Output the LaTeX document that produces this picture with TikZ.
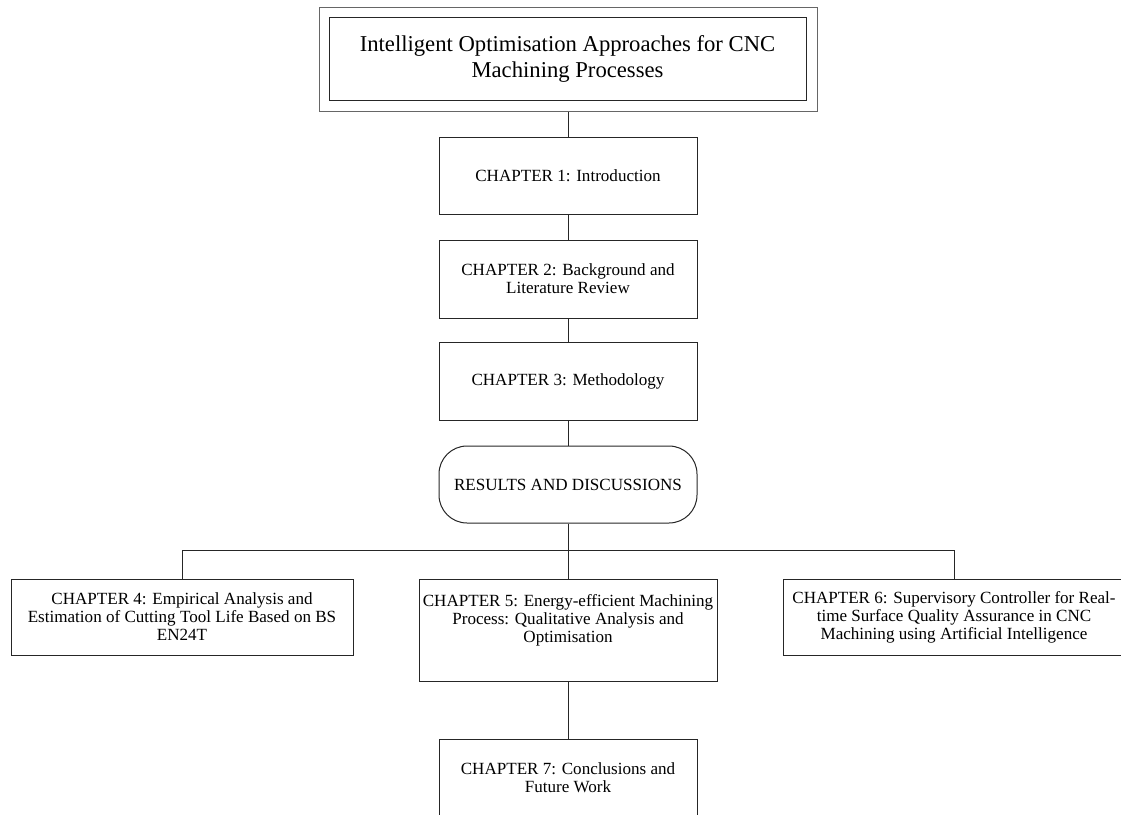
\documentclass[tikz,border=0pt]{standalone}
\usepackage{fontspec}
\setmainfont{Liberation Serif}
\begin{document}
\begin{tikzpicture}[x=0.75pt,y=-0.75pt,
  sz/.style 2 args={minimum width={#1*0.75pt}, minimum height={#2*0.75pt}},
  box/.style={draw=black!85, line width=0.75pt, rectangle, align=center,
    inner sep=0pt, font=\fontsize{12.8}{13.5}\selectfont},
  titlefont/.style={font=\fontsize{17}{19.5}\selectfont},
  link/.style={draw=black!85, line width=0.75pt}]
\useasboundingbox (0,0) rectangle (1121,814);

% thesis title in a double frame
\node[box, draw=black!60, sz={498}{104}] (outer) at (568,59) {};
\node[box, sz={477}{83}, titlefont] (title) at (567.5,58.5)
  {Intelligent Optimisation Approaches for CNC\\Machining Processes};

% opening chapters
\node[box, sz={258}{77}] (c1) at (568,175.5) {CHAPTER 1: Introduction};
\node[box, sz={258}{78}] (c2) at (568,279) {CHAPTER 2: Background and\\Literature Review};
\node[box, sz={258}{78}] (c3) at (568,381) {CHAPTER 3: Methodology};
\node[box, sz={258}{77}, rounded corners=21pt] (res) at (568,484.5) {RESULTS AND DISCUSSIONS};

% results chapters
\node[box, sz={342}{76}] (c4) at (182,617)
  {CHAPTER 4: Empirical Analysis and\\Estimation of Cutting Tool Life Based on BS\\EN24T};
\node[box, sz={298}{102}] (c5) at (568,630)
  {CHAPTER 5: Energy-efficient Machining\\Process: Qualitative Analysis and\\Optimisation\\ \strut};
\node[box, sz={342}{76}] (c6) at (954,617)
  {CHAPTER 6: Supervisory Controller for Real-\\time Surface Quality Assurance in CNC\\Machining using Artificial Intelligence};

% closing chapter
\node[box, sz={258}{78}] (c7) at (568,778) {CHAPTER 7: Conclusions and\\Future Work};

% connectors
\coordinate (busL) at (182,550);
\coordinate (busR) at (954,550);
\draw[link] (outer.south) -- (c1.north);
\draw[link] (c1.south) -- (c2.north);
\draw[link] (c2.south) -- (c3.north);
\draw[link] (c3.south) -- (res.north);
\draw[link] (res.south) -- (c5.north);
\draw[link] (busL) -- (busR);
\draw[link] (busL) -- (c4.north);
\draw[link] (busR) -- (c6.north);
\draw[link] (c5.south) -- (c7.north);
\end{tikzpicture}
\end{document}
